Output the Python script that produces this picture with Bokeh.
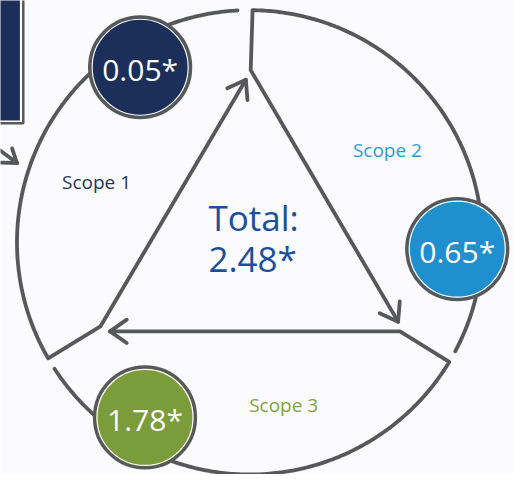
import numpy as np
from bokeh.plotting import figure
from bokeh.models import Range1d
from bokeh.embed import file_html
from bokeh.resources import INLINE
from bokeh.core.properties import value

# ---- data ----
scope_names = ["Scope 1", "Scope 2", "Scope 3"]
scope_values = [0.05, 0.65, 1.78]
total_value = 2.48
total_title = "Total:"

# ---- layout / style (not data) ----
GRAY = "#57585a"
FONT = value("Open Sans")
bubble_colors = ["#1c2f5a", "#1f8fd0", "#7b9c3a"]
label_colors = ["#1d355e", "#2b9bd8", "#7ea33a"]
bubble_xy = [(144, 69), (471, 257), (149, 431)]
bubble_r = 52
label_xy = [(99, 188), (399, 155), (292, 418)]

CX, CY, R = 257, 250, 240
# arc spans (deg, screen coords, y down), kink point, arrow tip
pieces = [
    dict(a0=267, a1=150, kink=[(103, 337)], tip=(253, 82)),
    dict(a0=28, a1=-89.3, kink=[(258, 72)], tip=(410, 332)),
    dict(a0=147, a1=31, kink=[(412, 342)], tip=(113, 342)),
]

W, H = 513, 474
p = figure(width=W, height=H, output_backend="svg", toolbar_location=None,
           x_range=Range1d(0, 529), y_range=Range1d(490, 0),
           min_border=0, background_fill_color="#fbfbfd",
           border_fill_color="#fbfbfd", outline_line_color=None)
p.axis.visible = False
p.grid.visible = False

# top-left partial box and arrow
p.quad(left=[-10], right=[23.5], top=[-10], bottom=[127], fill_color="white",
       line_color=GRAY, line_width=2.5)
p.quad(left=[-10], right=[20], top=[-10], bottom=[124], fill_color=bubble_colors[0],
       line_color=None)

def arrowhead(tail, tip, length=21, ang=35):
    d = np.array(tip, float) - np.array(tail, float)
    d /= np.linalg.norm(d)
    out_x, out_y = [], []
    for s in (1, -1):
        a = np.radians(ang * s)
        rot = np.array([[np.cos(a), -np.sin(a)], [np.sin(a), np.cos(a)]])
        b = -rot @ d * length
        out_x.append([tip[0] + b[0], tip[0]])
        out_y.append([tip[1] + b[1], tip[1]])
    return out_x, out_y

xs, ys = [], []
for pc in pieces:
    t = np.radians(np.linspace(pc["a0"], pc["a1"], 200))
    px = list(CX + R * np.cos(t))
    py = list(CY + R * np.sin(t))
    for k in pc["kink"]:
        px.append(k[0]); py.append(k[1])
    px.append(pc["tip"][0]); py.append(pc["tip"][1])
    xs.append(px); ys.append(py)
    ax, ay = arrowhead(pc["kink"][-1], pc["tip"])
    xs += ax; ys += ay

# small arrow from box
xs.append([-10, 17]); ys.append([148, 168])
ax, ay = arrowhead((-10, 148), (17, 168), length=16)
xs += ax; ys += ay

p.multi_line(xs, ys, line_color=GRAY, line_width=3.8, line_cap="round", line_join="round")

# bubbles
bx = [b[0] for b in bubble_xy]
by = [b[1] for b in bubble_xy]
p.circle(bx, by, radius=bubble_r, fill_color=bubble_colors, line_color=GRAY, line_width=3.4)
p.circle(bx, by, radius=bubble_r - 2.5, fill_alpha=0, line_color="white", line_width=1.2)
p.text(bx, [y + 2 for y in by], text=[f"{v:.2f}*" for v in scope_values],
       text_align="center", text_baseline="middle", text_color="white",
       text_font=FONT, text_font_size="30px")

# scope labels
p.text([l[0] for l in label_xy], [l[1] for l in label_xy], text=scope_names,
       text_align="center", text_baseline="middle", text_color=label_colors,
       text_font=FONT, text_font_size="19px")

# total
p.text([261, 260], [224, 267], text=[total_title, f"{total_value:.2f}*"],
       text_align="center", text_baseline="middle", text_color="#1a4f9c",
       text_font=FONT, text_font_size="35px")

open("out.html", "w").write(file_html(p, INLINE))
